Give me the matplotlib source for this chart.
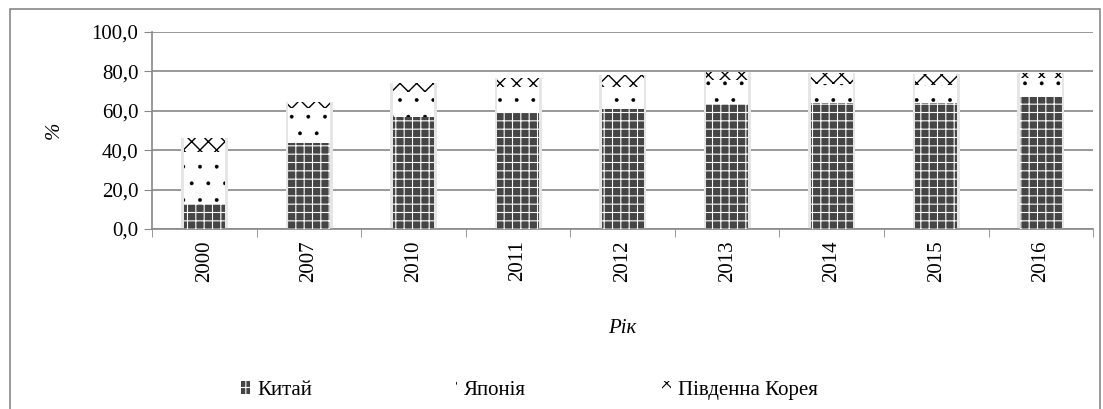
import numpy as np
import matplotlib.pyplot as plt
from matplotlib.patches import Patch, Rectangle

plt.rcParams['font.family'] = ['Liberation Serif', 'DejaVu Serif']

# Дані
years = ['2000', '2007', '2010', '2011', '2012', '2013', '2014', '2015', '2016']
china = [12.7, 43.8, 56.7, 59.5, 60.8, 63.5, 64.1, 64.1, 66.9]
japan = [26.3, 17.6, 13.0, 12.5, 11.4, 12.1, 9.5, 8.9, 9.7]
korea = [7.0, 3.2, 4.6, 4.5, 6.0, 4.2, 5.4, 5.7, 2.4]

series_names = ['Китай', 'Японія', 'Південна Корея']

fig = plt.figure(figsize=(11.03, 4.09), dpi=100)
ax = fig.add_axes([0.138, 0.44, 0.853, 0.482])

x = np.arange(len(years))
w = 0.4
china = np.array(china)
japan = np.array(japan)
korea = np.array(korea)
total = china + japan + korea

fs = 15

# легка тінь
ax.bar(x, total + 0.8, w + 0.05, bottom=-0.8, color='#e6e6e6', linewidth=0, zorder=2)

plt.rcParams['hatch.linewidth'] = 0.8
ax.bar(x, china, w, facecolor='#454545', edgecolor='white', hatch='++', linewidth=0, zorder=3)
plt.rcParams['hatch.linewidth'] = 0.3
ax.bar(x, japan, w, bottom=china, facecolor='white', edgecolor='black', hatch='.', linewidth=0, zorder=3)
plt.rcParams['hatch.linewidth'] = 1.0
ax.bar(x, korea, w, bottom=china + japan, facecolor='white', edgecolor='black', hatch='xx', linewidth=0, zorder=3)

ax.set_ylim(0, 100)
ax.set_xlim(-0.5, len(years) - 0.5)
yt = np.arange(0, 101, 20)
ax.set_yticks(yt)
ax.set_yticklabels([f'{v:.1f}'.replace('.', ',') for v in yt], fontsize=fs)
ax.set_xticks(x)
ax.set_xticklabels(years, rotation=90, fontsize=fs)
ax.set_xticks(np.arange(-0.5, len(years), 1), minor=True)
ax.tick_params(axis='x', which='major', length=0, pad=8)
ax.tick_params(axis='x', which='minor', length=6, color='#888888')
ax.tick_params(axis='y', length=6, color='#888888', pad=4)

ax.grid(axis='y', color='#888888', linewidth=1.2, zorder=0)
ax.set_axisbelow(True)
for s in ['top', 'right']:
    ax.spines[s].set_visible(False)
for s in ['left', 'bottom']:
    ax.spines[s].set_color('#888888')
    ax.spines[s].set_linewidth(1.2)

ax.set_ylabel('%', fontsize=fs, style='italic', labelpad=20)
ax.set_xlabel('Рік', fontsize=fs, style='italic', labelpad=27)

plt.rcParams['hatch.linewidth'] = 0.8
handles = [
    Patch(facecolor='#454545', edgecolor='white', hatch='++', linewidth=0),
    Patch(facecolor='white', edgecolor='black', hatch='.', linewidth=0),
    Patch(facecolor='white', edgecolor='black', hatch='xx', linewidth=0),
]
fig.legend(handles, series_names, loc='center', bbox_to_anchor=(0.48, 0.045), ncol=3,
           frameon=False, fontsize=fs, handlelength=0.45, handleheight=0.55,
           handletextpad=0.35, columnspacing=6.5)

fig.add_artist(Rectangle((0.009, -0.01), 0.988, 0.988, transform=fig.transFigure,
                         fill=False, edgecolor='#888888', linewidth=1.2))

fig.savefig('out.png', dpi=100)
